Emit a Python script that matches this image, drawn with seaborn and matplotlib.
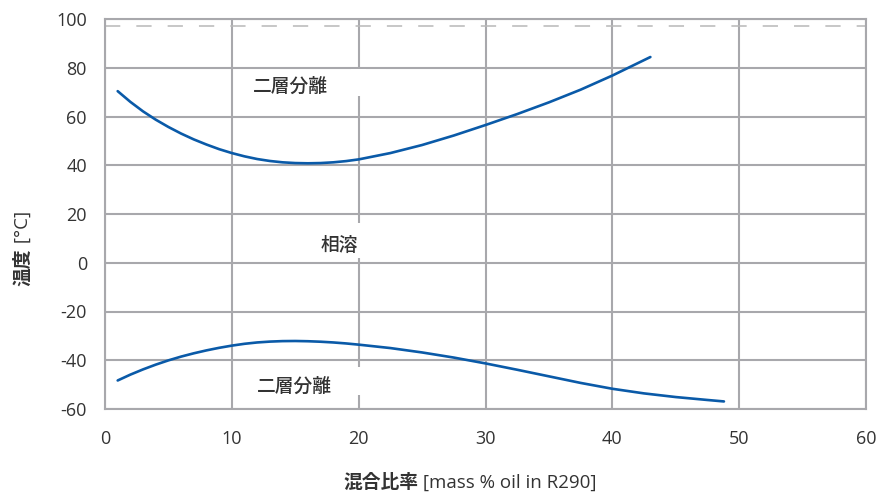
import matplotlib
matplotlib.use("Agg")
import matplotlib.pyplot as plt
import seaborn as sns
import pandas as pd
from matplotlib.patches import Rectangle

# Upper miscibility boundary (two-layer separation above)
upper_x = [1, 2, 3, 4, 5, 6, 7, 8, 9, 10, 11, 12, 13, 14, 15, 16, 17, 18, 19, 20,
           22.5, 25, 27.5, 30, 32.5, 35, 37.5, 40, 43]
upper_y = [70.4, 66.0, 62.1, 58.7, 55.7, 53.0, 50.6, 48.5, 46.6, 45.0, 43.65, 42.55, 41.75,
           41.2, 40.9, 40.8, 40.9, 41.2, 41.7, 42.4,
           45.0, 48.3, 52.2, 56.5, 61.0, 65.8, 71.0, 76.8, 84.4]

# Lower miscibility boundary (two-layer separation below)
lower_x = [1, 2, 3, 4, 5, 6, 7, 8, 9, 10, 11, 12, 13, 14, 15, 16, 17, 18, 19, 20,
           22.5, 25, 27.5, 30, 32.5, 35, 37.5, 40, 42.5, 45, 47.5, 48.8]
lower_y = [-48.3, -45.9, -43.75, -41.8, -40.05, -38.5, -37.15, -35.95, -34.9, -34.0,
           -33.25, -32.7, -32.35, -32.15, -32.1, -32.2, -32.4, -32.7, -33.1, -33.6,
           -35.0, -36.8, -38.9, -41.3, -43.9, -46.6, -49.3, -51.7, -53.6, -55.1, -56.3, -56.9]

x_ticks = [0, 10, 20, 30, 40, 50, 60]
y_ticks = [-60, -40, -20, 0, 20, 40, 60, 80, 100]
critical_temp = 97

region_labels = ["二層分離", "相溶", "二層分離"]
region_pos = [(14.6, 72.5), (18.45, 7.2), (14.9, -50.7)]

x_label_cjk = "混合比率"
x_label_rest = " [mass % oil in R290]"
y_label_cjk = "温度"
y_label_rest = " [°C]"

sns.set_theme(style="white")
plt.rcParams["font.family"] = ["Open Sans", "Noto Sans CJK JP", "DejaVu Sans"]
plt.rcParams["axes.unicode_minus"] = False

GRID = "#a8a8ac"
BLUE = "#0a5aa8"
TEXT = "#333333"

fig = plt.figure(figsize=(8.83, 4.95), dpi=100)
ax = fig.add_axes([105 / 883, 1 - 409 / 495, (866 - 105) / 883, (409 - 19) / 495])

df_up = pd.DataFrame({"x": upper_x, "y": upper_y})
df_lo = pd.DataFrame({"x": lower_x, "y": lower_y})
sns.lineplot(data=df_up, x="x", y="y", ax=ax, color=BLUE, linewidth=1.9, estimator=None, zorder=3)
sns.lineplot(data=df_lo, x="x", y="y", ax=ax, color=BLUE, linewidth=1.9, estimator=None, zorder=3)

ax.axhline(critical_temp, color="#b8b8b8", linewidth=1.1, dashes=(10, 10.5), zorder=1.5)

ax.set_xlim(0, 60)
ax.set_ylim(-60, 100)
ax.set_xticks(x_ticks)
ax.set_yticks(y_ticks)
ax.set_axisbelow(True)
ax.grid(True, color=GRID, linewidth=1.5)
for s in ax.spines.values():
    s.set_color(GRID)
    s.set_linewidth(1.5)
ax.tick_params(axis="both", length=0, labelsize=13, labelcolor=TEXT)
ax.tick_params(axis="y", pad=13)
ax.tick_params(axis="x", pad=15)
ax.set_xlabel("")
ax.set_ylabel("")

# white gaps in the 20 % gridline behind the region labels
for y0, y1 in [(68.6, 79.3), (1.8, 16.2), (-54.4, -42.9)]:
    ax.add_patch(Rectangle((19.4, y0), 1.2, y1 - y0, facecolor="white", edgecolor="none", zorder=1))

for lab, (lx, ly) in zip(region_labels, region_pos):
    ax.text(lx, ly, lab, ha="center", va="center", fontsize=13.5, color=TEXT,
            family=["Noto Sans CJK JP"], fontweight="medium", zorder=4)

# axis titles: bold CJK part followed by regular unit part
tx = fig.text(343 / 883, 1 - 488 / 495, x_label_cjk, fontsize=13.5, color=TEXT,
              family=["Noto Sans CJK JP"], fontweight="bold", ha="left", va="baseline")
ax.annotate(x_label_rest, xy=(1, 0), xycoords=tx, ha="left", va="bottom",
            fontsize=13.5, color=TEXT, annotation_clip=False)

ty = fig.text(23 / 883, 1 - 286 / 495, y_label_cjk, fontsize=13.5, color=TEXT, rotation=90,
              family=["Noto Sans CJK JP"], fontweight="bold", ha="center", va="bottom")
ax.annotate(y_label_rest, xy=(0.5, 1), xycoords=ty, ha="center", va="bottom", rotation=90,
            fontsize=13.5, color=TEXT, annotation_clip=False)

fig.savefig("out.png", dpi=100)
